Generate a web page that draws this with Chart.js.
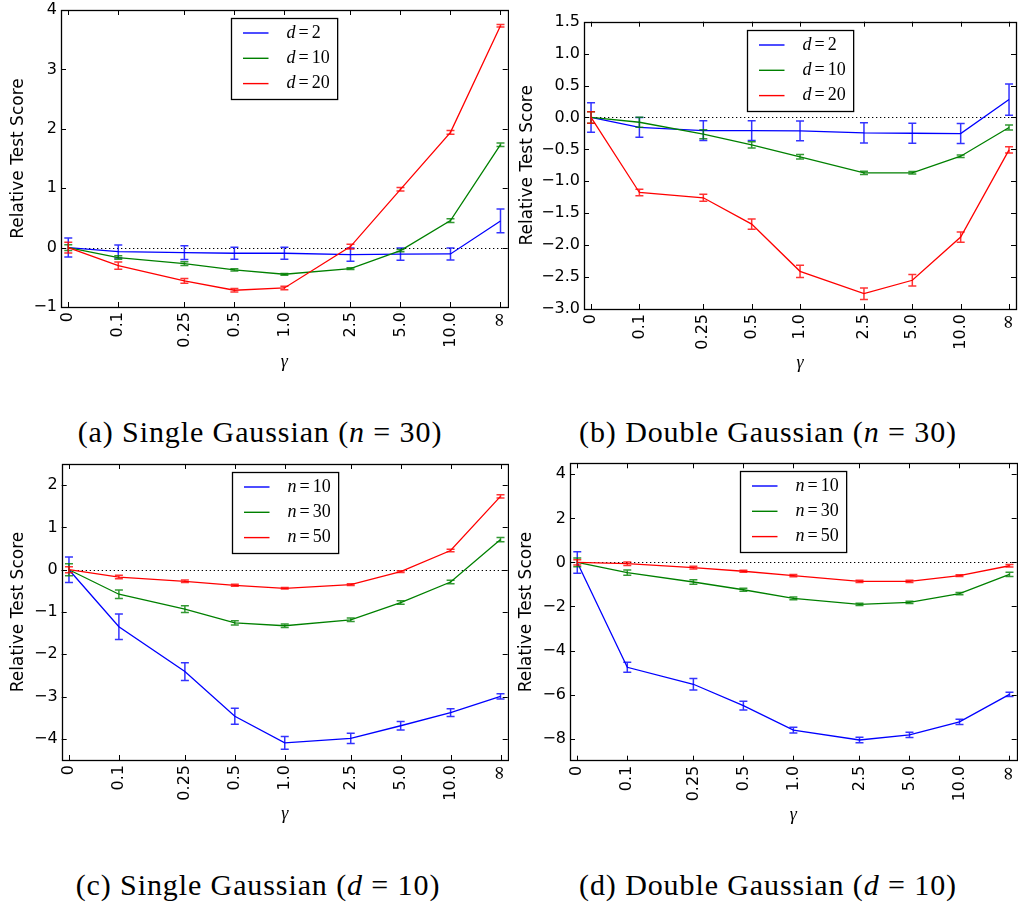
<!DOCTYPE html>
<html>
<head>
<meta charset="utf-8">
<script src="https://cdn.jsdelivr.net/npm/chart.js@4/dist/chart.umd.min.js"></script>
<style>
  body { margin: 0; background: #fff; }
  #wrap { position: relative; width: 1018px; height: 903px; background: #fff; overflow: hidden; }
  canvas { position: absolute; }
  .cap { position: absolute; font-family: "Liberation Serif", serif; font-size: 30px; color: #000;
         white-space: nowrap; transform: translate(-50%, -50%); letter-spacing: 0.9px; }
  .cap i { font-style: italic; }
</style>
</head>
<body>
<div id="wrap">
  <canvas id="ca" width="509" height="380" style="left:0;top:0"></canvas>
  <canvas id="cb" width="509" height="380" style="left:509px;top:0"></canvas>
  <canvas id="cc" width="509" height="380" style="left:0;top:452px"></canvas>
  <canvas id="cd" width="509" height="380" style="left:509px;top:452px"></canvas>
  <div class="cap" style="left:260px;top:432px">(a) Single Gaussian (<i>n</i> = 30)</div>
  <div class="cap" style="left:768px;top:432px">(b) Double Gaussian (<i>n</i> = 30)</div>
  <div class="cap" style="left:258px;top:885px">(c) Single Gaussian (<i>d</i> = 10)</div>
  <div class="cap" style="left:768px;top:885px">(d) Double Gaussian (<i>d</i> = 10)</div>
</div>
<script>
// ---------- data ----------
const gammaLabels = ['0', '0.1', '0.25', '0.5', '1.0', '2.5', '5.0', '10.0', '\u221E'];
const gammaPos = [0.05, 0.1, 0.25, 0.5, 1, 2.5, 5, 10, 20];

const seriesColors = ['#0000ff', '#008000', '#ff0000'];

// (a) Single Gaussian (n = 30)
const aLabels = ['d = 2', 'd = 10', 'd = 20'];
const a_d2 = [0, -0.067, -0.084, -0.095, -0.095, -0.118, -0.11, -0.107, 0.449];
const a_d2_err = [0.16, 0.11, 0.115, 0.1, 0.1, 0.11, 0.105, 0.1, 0.2];
const a_d10 = [0, -0.168, -0.27, -0.376, -0.449, -0.353, -0.05, 0.454, 1.733];
const a_d10_err = [0.05, 0.03, 0.03, 0.02, 0.015, 0.015, 0.02, 0.03, 0.03];
const a_d20 = [0, -0.303, -0.56, -0.718, -0.679, 0.017, 0.981, 1.94, 3.735];
const a_d20_err = [0.09, 0.06, 0.04, 0.03, 0.03, 0.04, 0.03, 0.03, 0.02];
const aTicks = [-1, 0, 1, 2, 3, 4];

// (b) Double Gaussian (n = 30)
const bLabels = ['d = 2', 'd = 10', 'd = 20'];
const b_d2 = [0, -0.154, -0.205, -0.205, -0.21, -0.241, -0.247, -0.252, 0.28];
const b_d2_err = [0.23, 0.155, 0.155, 0.155, 0.155, 0.157, 0.157, 0.157, 0.245];
const b_d10 = [0, -0.075, -0.262, -0.43, -0.617, -0.867, -0.867, -0.607, -0.158];
const b_d10_err = [0.09, 0.08, 0.07, 0.05, 0.035, 0.025, 0.02, 0.02, 0.04];
const b_d20 = [0, -1.175, -1.258, -1.67, -2.41, -2.76, -2.55, -1.873, -0.508];
const b_d20_err = [0.09, 0.05, 0.055, 0.08, 0.095, 0.09, 0.09, 0.08, 0.05];
const bTicks = [-3, -2.5, -2, -1.5, -1, -0.5, 0, 0.5, 1, 1.5];

// (c) Single Gaussian (d = 10)
const cLabels = ['n = 10', 'n = 30', 'n = 50'];
const c_n10 = [0, -1.349, -2.408, -3.467, -4.094, -3.99, -3.69, -3.38, -2.996];
const c_n10_err = [0.3, 0.3, 0.21, 0.19, 0.15, 0.12, 0.1, 0.09, 0.06];
const c_n30 = [0, -0.58, -0.933, -1.255, -1.325, -1.184, -0.776, -0.29, 0.714];
const c_n30_err = [0.14, 0.1, 0.08, 0.05, 0.04, 0.04, 0.04, 0.04, 0.05];
const c_n50 = [0, -0.173, -0.275, -0.369, -0.439, -0.353, -0.047, 0.455, 1.733];
const c_n50_err = [0.07, 0.04, 0.03, 0.025, 0.02, 0.02, 0.02, 0.03, 0.04];
const cTicks = [-4, -3, -2, -1, 0, 1, 2];

// (d) Double Gaussian (d = 10)
const dLabels = ['n = 10', 'n = 30', 'n = 50'];
const d_n10 = [0, -4.76, -5.53, -6.5, -7.61, -8.06, -7.83, -7.24, -5.99];
const d_n10_err = [0.49, 0.23, 0.26, 0.2, 0.13, 0.12, 0.12, 0.12, 0.1];
const d_n30 = [0, -0.465, -0.888, -1.24, -1.63, -1.9, -1.81, -1.42, -0.54];
const d_n30_err = [0.2, 0.12, 0.1, 0.07, 0.06, 0.05, 0.05, 0.05, 0.1];
const d_n50 = [0, -0.056, -0.236, -0.4, -0.6, -0.858, -0.858, -0.6, -0.15];
const d_n50_err = [0.12, 0.08, 0.06, 0.05, 0.05, 0.05, 0.05, 0.04, 0.06];
const dTicks = [-8, -6, -4, -2, 0, 2, 4];

// ---------- plugins ----------
const zeroLinePlugin = {
  id: 'zeroLine',
  beforeDatasetsDraw(chart) {
    const {ctx, chartArea: ca, scales: {y}} = chart;
    const yy = Math.round(y.getPixelForValue(0)) + 0.5;
    ctx.save();
    ctx.strokeStyle = '#000';
    ctx.lineWidth = 1.2;
    ctx.setLineDash([1.3, 2.7]);
    ctx.beginPath();
    ctx.moveTo(ca.left, yy);
    ctx.lineTo(ca.right, yy);
    ctx.stroke();
    ctx.restore();
  }
};

const errorBarPlugin = {
  id: 'errorBars',
  afterDatasetDraw(chart, args) {
    const ds = chart.data.datasets[args.index];
    if (!ds.err) return;
    const {ctx, scales: {x, y}} = chart;
    ctx.save();
    ctx.strokeStyle = ds.borderColor;
    ctx.globalAlpha = 0.8;
    ctx.lineWidth = 1.5;
    const cap = 4;
    ds.data.forEach((p, i) => {
      const px = x.getPixelForValue(p.x);
      const y1 = y.getPixelForValue(p.y - ds.err[i]);
      const y2 = y.getPixelForValue(p.y + ds.err[i]);
      ctx.beginPath();
      ctx.moveTo(px, y1); ctx.lineTo(px, y2);
      ctx.moveTo(px - cap, y1); ctx.lineTo(px + cap, y1);
      ctx.moveTo(px - cap, y2); ctx.lineTo(px + cap, y2);
      ctx.stroke();
    });
    ctx.restore();
  }
};

const framePlugin = {
  id: 'frame',
  afterDatasetsDraw(chart) {
    const {ctx, chartArea: ca, scales: {x, y}} = chart;
    const tl = 5;
    ctx.save();
    ctx.strokeStyle = '#000';
    ctx.lineWidth = 1;
    ctx.beginPath();
    x.ticks.forEach(t => {
      const px = Math.round(x.getPixelForValue(t.value)) + 0.5;
      ctx.moveTo(px, ca.bottom); ctx.lineTo(px, ca.bottom - tl);
      ctx.moveTo(px, ca.top); ctx.lineTo(px, ca.top + tl);
    });
    y.ticks.forEach(t => {
      const py = Math.round(y.getPixelForValue(t.value)) + 0.5;
      ctx.moveTo(ca.left, py); ctx.lineTo(ca.left + tl, py);
      ctx.moveTo(ca.right, py); ctx.lineTo(ca.right - tl, py);
    });
    ctx.stroke();
    ctx.lineWidth = 1.3;
    ctx.strokeRect(Math.round(ca.left) + 0.5, Math.round(ca.top) + 0.5,
                   Math.round(ca.right - ca.left), Math.round(ca.bottom - ca.top));
    ctx.restore();
  }
};

const mathLegendPlugin = {
  id: 'mathLegend',
  afterDraw(chart) {
    const {ctx, chartArea: ca} = chart;
    const dsets = chart.data.datasets.filter(d => d.err);
    const italic = 'italic 18px "Liberation Serif", serif';
    const roman = '18px "Liberation Serif", serif';
    const parts = dsets.map(d => {
      const [v, n] = d.label.split(' = ');
      ctx.font = italic; const wv = ctx.measureText(v).width;
      ctx.font = roman; const we = ctx.measureText('=').width; const wn = ctx.measureText(n).width;
      return {v, n, wv, we, wn, w: wv + 3 + we + 3 + wn, color: d.borderColor};
    });
    const textW = Math.max(...parts.map(p => p.w));
    const bw = 55 + textW + 8, bh = 81;
    const bx = Math.round((ca.left + ca.right) / 2 - bw / 2) + 0.5;
    const by = Math.round(ca.top + 8) + 0.5;
    ctx.save();
    ctx.fillStyle = '#fff';
    ctx.fillRect(bx, by, bw, bh);
    ctx.strokeStyle = '#000';
    ctx.lineWidth = 1.3;
    ctx.strokeRect(bx, by, bw, bh);
    parts.forEach((p, i) => {
      const ry = by + 14.5 + i * 25.3;
      ctx.strokeStyle = p.color;
      ctx.lineWidth = 1.4;
      ctx.beginPath();
      ctx.moveTo(bx + 11.5, ry); ctx.lineTo(bx + 37, ry);
      ctx.stroke();
      ctx.fillStyle = '#000';
      ctx.textBaseline = 'middle';
      let tx = bx + 55;
      ctx.font = italic; ctx.fillText(p.v, tx, ry); tx += p.wv + 3;
      ctx.font = roman; ctx.fillText('=', tx, ry); tx += p.we + 3;
      ctx.fillText(p.n, tx, ry);
    });
    ctx.restore();
  }
};

// ---------- chart builder ----------
function fmtTick(v, dec) {
  return v.toFixed(dec).replace('-', '\u2212');
}

function buildChart(id, labels, series, errs, yMin, yMax, yTicks, dec, lay) {
  const datasets = series.map((s, k) => ({
    label: labels[k],
    data: s.map((v, i) => ({x: gammaPos[i], y: v})),
    err: errs[k],
    borderColor: seriesColors[k],
    backgroundColor: seriesColors[k],
    borderWidth: 1.3,
    pointRadius: 0,
    tension: 0,
    order: 3 - k
  }));
  return new Chart(document.getElementById(id), {
    type: 'line',
    data: {datasets},
    plugins: [zeroLinePlugin, errorBarPlugin, framePlugin, mathLegendPlugin],
    options: {
      responsive: false,
      animation: false,
      devicePixelRatio: 1,
      layout: {padding: {top: lay.top, right: lay.right, left: 0, bottom: 0}},
      plugins: {legend: {display: false}, tooltip: {enabled: false}},
      scales: {
        x: {
          type: 'logarithmic',
          min: 0.0452, max: 22.1,
          grid: {display: false, drawTicks: false},
          border: {display: false},
          afterBuildTicks: (s) => { s.ticks = gammaPos.map(v => ({value: v})); },
          afterFit: (s) => { s.height = lay.xh; s.paddingLeft = 0; s.paddingRight = 0; },
          ticks: {
            autoSkip: false, minRotation: 90, maxRotation: 90, padding: 5,
            color: '#000',
            font: (c) => (c.index === gammaLabels.length - 1
              ? {family: '"DejaVu Serif", serif', size: 19}
              : {family: '"DejaVu Sans", sans-serif', size: 16}),
            callback: (v, i) => gammaLabels[i]
          },
          title: {
            display: true, text: '\u03B3', color: '#000',
            font: {family: '"Liberation Serif", serif', size: 18, style: 'italic'},
            padding: {top: 0, bottom: lay.xtp}
          }
        },
        y: {
          type: 'linear',
          min: yMin, max: yMax,
          grid: {display: false, drawTicks: false},
          border: {display: false},
          afterBuildTicks: (s) => { s.ticks = yTicks.map(v => ({value: v})); },
          afterFit: (s) => { s.width = lay.yw; s.paddingTop = 0; s.paddingBottom = 0; },
          ticks: {
            padding: 4, color: '#000',
            font: {family: '"DejaVu Sans", sans-serif', size: 16},
            callback: (v) => fmtTick(v, dec)
          },
          title: {
            display: true, text: 'Relative Test Score', color: '#000',
            font: {family: '"DejaVu Sans", sans-serif', size: 17},
            padding: {top: lay.ytp, bottom: 0}
          }
        }
      }
    }
  });
}

buildChart('ca', aLabels, [a_d2, a_d10, a_d20], [a_d2_err, a_d10_err, a_d20_err],
  -1, 4, aTicks, 0, {top: 10, right: 1.3, yw: 61, xh: 73, xtp: 7, ytp: 8});
buildChart('cb', bLabels, [b_d2, b_d10, b_d20], [b_d2_err, b_d10_err, b_d20_err],
  -3, 1.5, bTicks, 1, {top: 21.7, right: 2, yw: 75, xh: 71, xtp: 6, ytp: 8.5});
buildChart('cc', cLabels, [c_n10, c_n30, c_n50], [c_n10_err, c_n30_err, c_n50_err],
  -4.5, 2.5, cTicks, 0, {top: 12, right: 1.3, yw: 61.7, xh: 72, xtp: 7, ytp: 8});
buildChart('cd', dLabels, [d_n10, d_n30, d_n50], [d_n10_err, d_n30_err, d_n50_err],
  -9, 4.5, dTicks, 0, {top: 11.3, right: 1.3, yw: 61, xh: 71.3, xtp: 5.5, ytp: 7});
</script>
</body>
</html>
